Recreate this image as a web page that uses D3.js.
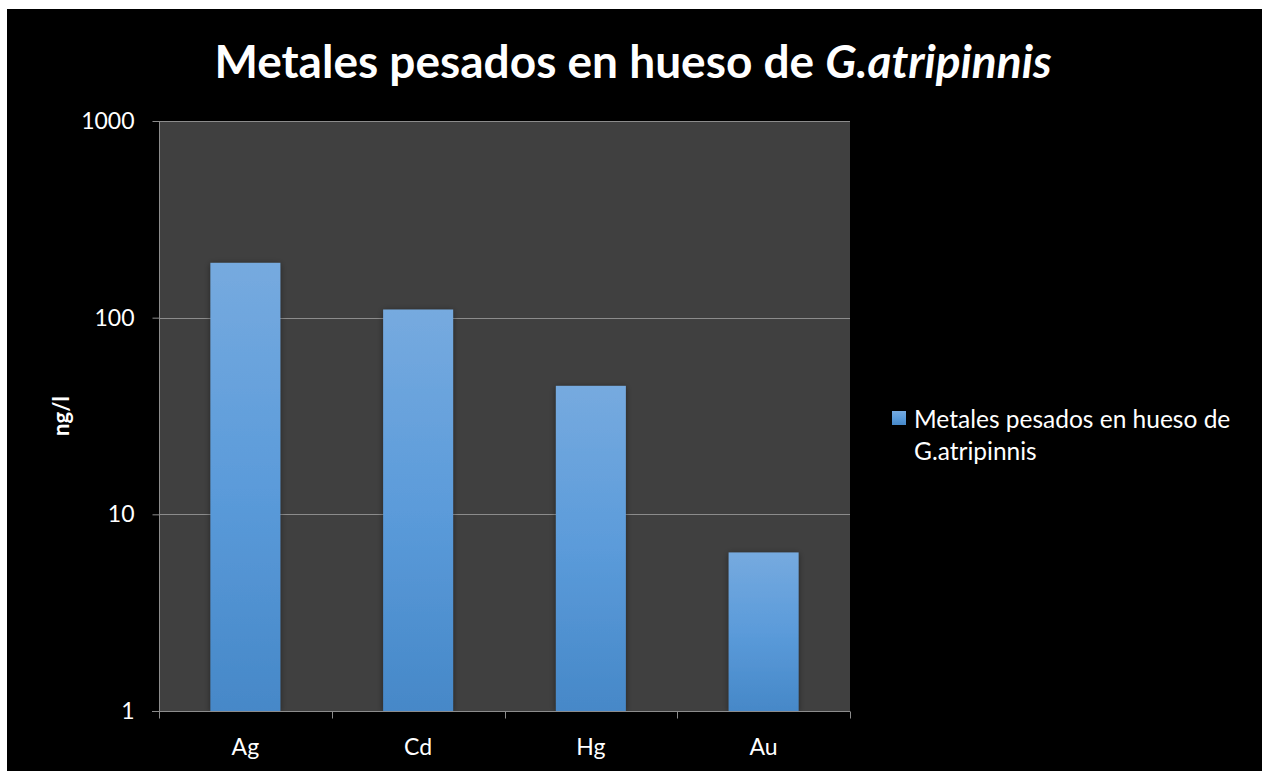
<!DOCTYPE html>
<html>
<head>
<meta charset="utf-8">
<script src="https://cdn.jsdelivr.net/npm/d3@7"></script>
<style>
  html, body { margin: 0; padding: 0; background: #ffffff; }
  svg { display: block; }
</style>
</head>
<body>
<svg id="chart" width="1262" height="771"></svg>
<script>
// Metal concentrations in bone (ng/l)
const categories = ["Ag", "Cd", "Hg", "Au"];
const values = [190, 110, 45, 6.4];
const yTicks = [1, 10, 100, 1000];
const seriesName = "Metales pesados en hueso de G.atripinnis";

const svg = d3.select("#chart");
const W = 1262, H = 771;
const FONT = "Lato, 'Open Sans', sans-serif";

// black chart frame (white margin on top and left)
svg.append("rect").attr("x", 7).attr("y", 9).attr("width", W - 7).attr("height", H - 9).attr("fill", "#000");

const plot = { left: 159, right: 850, top: 121, bottom: 711 };

const x = d3.scaleBand().domain(categories).range([plot.left, plot.right]).paddingInner(0.595).paddingOuter(0.2975);
const y = d3.scaleLog().domain([1, 1000]).range([plot.bottom, plot.top]);

const defs = svg.append("defs");
const grad = defs.append("linearGradient").attr("id", "barGrad").attr("x1", 0).attr("y1", 0).attr("x2", 0).attr("y2", 1);
grad.append("stop").attr("offset", "0%").attr("stop-color", "#76aadf");
grad.append("stop").attr("offset", "50%").attr("stop-color", "#5b9bda");
grad.append("stop").attr("offset", "100%").attr("stop-color", "#4688c8");

const shadow = defs.append("filter").attr("id", "barShadow").attr("x", "-20%").attr("y", "-20%").attr("width", "140%").attr("height", "140%");
shadow.append("feGaussianBlur").attr("in", "SourceAlpha").attr("stdDeviation", 3).attr("result", "b");
shadow.append("feOffset").attr("in", "b").attr("dx", 0).attr("dy", 1).attr("result", "o");
shadow.append("feComponentTransfer").attr("in", "o").attr("result", "s")
  .append("feFuncA").attr("type", "linear").attr("slope", 0.45);
const fm = shadow.append("feMerge");
fm.append("feMergeNode").attr("in", "s");
fm.append("feMergeNode").attr("in", "SourceGraphic");

// plot area
svg.append("rect")
  .attr("x", plot.left).attr("y", plot.top)
  .attr("width", plot.right - plot.left).attr("height", plot.bottom - plot.top)
  .attr("fill", "#404040");

// gridlines
svg.append("g").selectAll("line").data(yTicks.filter(d => d > 1)).join("line")
  .attr("x1", plot.left).attr("x2", plot.right)
  .attr("y1", d => Math.round(y(d)) + 0.5).attr("y2", d => Math.round(y(d)) + 0.5)
  .attr("stroke", "#8c8c8c").attr("stroke-width", 1);

// bars
svg.append("g").selectAll("rect").data(categories).join("rect")
  .attr("x", d => x(d))
  .attr("y", (d, i) => y(values[i]))
  .attr("width", x.bandwidth())
  .attr("height", (d, i) => plot.bottom - y(values[i]))
  .attr("fill", "url(#barGrad)")
  .attr("filter", "url(#barShadow)");

// y axis
const yAxis = d3.axisLeft(y).tickValues(yTicks).tickFormat(d3.format("d")).tickSize(7).tickPadding(18);
const gy = svg.append("g").attr("transform", `translate(${plot.left + 0.5},0)`).call(yAxis);
gy.select(".domain").attr("stroke", "#8c8c8c").attr("d", `M0,${plot.top}V${plot.bottom}`);
gy.selectAll(".tick line").attr("stroke", "#8c8c8c");
gy.selectAll(".tick text").attr("fill", "#fff").attr("font-family", FONT).attr("font-size", 23);

// x axis with boundary ticks between categories
const gx = svg.append("g").attr("transform", `translate(0,${plot.bottom + 0.5})`);
gx.append("line").attr("x1", plot.left - 7).attr("x2", plot.right).attr("y1", 0).attr("y2", 0).attr("stroke", "#8c8c8c");
const bounds = d3.range(categories.length + 1).map(i => plot.left + i * (plot.right - plot.left) / categories.length);
gx.selectAll("line.tk").data(bounds).join("line").attr("class", "tk")
  .attr("x1", d => Math.round(d) + 0.5).attr("x2", d => Math.round(d) + 0.5)
  .attr("y1", 0).attr("y2", 7).attr("stroke", "#8c8c8c");
gx.selectAll("text").data(categories).join("text")
  .attr("x", d => x(d) + x.bandwidth() / 2).attr("y", 43)
  .attr("text-anchor", "middle").attr("fill", "#fff")
  .attr("font-family", FONT).attr("font-size", 23)
  .text(d => d);

// y-axis title
svg.append("text")
  .attr("transform", "translate(69,416) rotate(-90)")
  .attr("text-anchor", "middle").attr("fill", "#fff")
  .attr("font-family", FONT).attr("font-weight", "bold").attr("font-size", 22)
  .text("ng/l");

// title
const title = svg.append("text")
  .attr("x", 633).attr("y", 78).attr("text-anchor", "middle").attr("fill", "#fff")
  .attr("font-family", FONT).attr("font-weight", "bold").attr("font-size", 46);
title.append("tspan").text("Metales pesados en hueso de ");
title.append("tspan").attr("font-style", "italic").text("G.atripinnis");

// legend
const lg = svg.append("g");
lg.append("rect").attr("x", 892).attr("y", 411).attr("width", 14).attr("height", 14).attr("fill", "url(#barGrad)");
const lt = lg.append("text").attr("fill", "#fff").attr("font-family", FONT).attr("font-size", 24.5);
lt.append("tspan").attr("x", 914).attr("y", 428).text("Metales pesados en hueso de");
lt.append("tspan").attr("x", 914).attr("y", 460).text("G.atripinnis");
</script>
</body>
</html>
